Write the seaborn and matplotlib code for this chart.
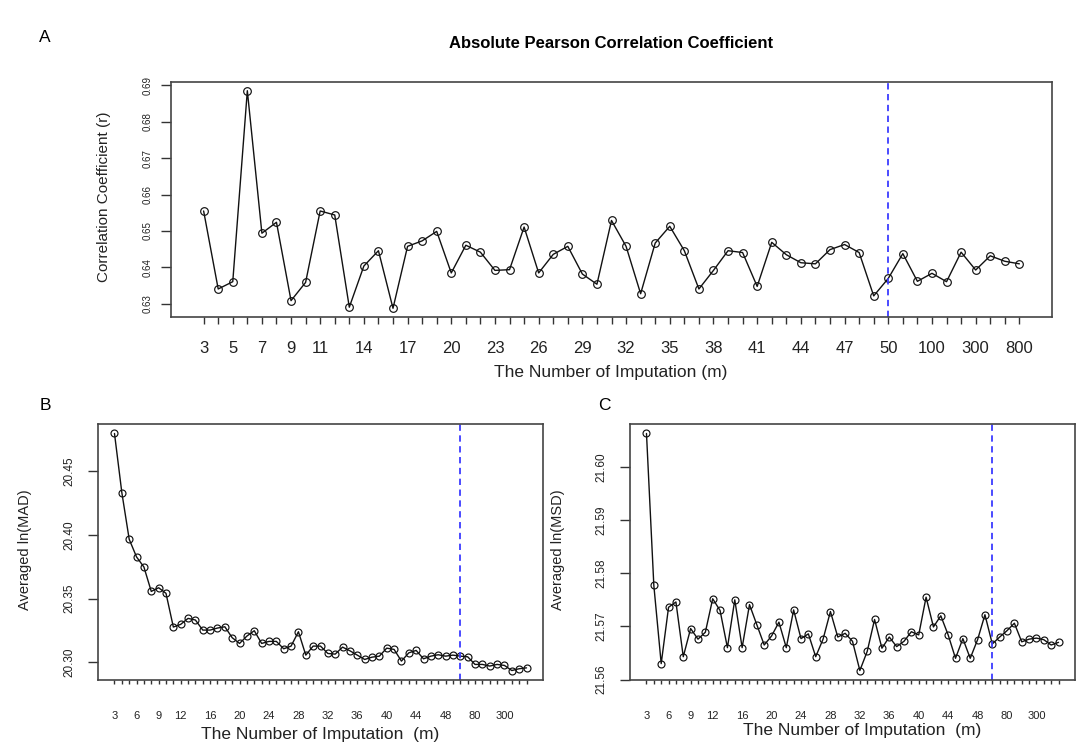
import numpy as np
import pandas as pd
import seaborn as sns
import matplotlib
matplotlib.use("Agg")
import matplotlib.pyplot as plt

# number of imputations (categorical x axis)
m_values = list(range(3, 51)) + [60, 80, 100, 150, 200, 300, 400, 500, 800]

# panel A: absolute Pearson correlation coefficient
r_values = [
    0.6555, 0.6341, 0.6361, 0.6885, 0.6494, 0.6524, 0.6309, 0.6359, 0.6555, 0.6544,
    0.6291, 0.6404, 0.6446, 0.6288, 0.6458, 0.6473, 0.6499, 0.6385, 0.6461, 0.6442,
    0.6392, 0.6394, 0.6511, 0.6385, 0.6436, 0.6458, 0.6382, 0.6354, 0.6529, 0.6458,
    0.6328, 0.6467, 0.6513, 0.6446, 0.6341, 0.6392, 0.6446, 0.6441, 0.6348, 0.6469,
    0.6435, 0.6413, 0.6410, 0.6449, 0.6463, 0.6441, 0.6322, 0.6370,
    0.6438, 0.6362, 0.6384, 0.6361, 0.6442, 0.6393, 0.6432, 0.6417, 0.6410,
]

# panel B: averaged ln(MAD)
mad_values = [
    20.4798, 20.4333, 20.3966, 20.3827, 20.3748, 20.3556, 20.3585, 20.3541, 20.3276, 20.3297,
    20.3344, 20.3331, 20.3252, 20.3252, 20.3268, 20.3278, 20.3192, 20.3147, 20.3205, 20.3247,
    20.3147, 20.3163, 20.3163, 20.3105, 20.3126, 20.3239, 20.3055, 20.3126, 20.3126, 20.3068,
    20.3063, 20.3118, 20.3089, 20.3055, 20.3021, 20.3039, 20.3047, 20.3110, 20.3100, 20.3008,
    20.3073, 20.3092, 20.3026, 20.3047, 20.3058, 20.3047, 20.3055, 20.3047,
    20.3042, 20.2982, 20.2982, 20.2969, 20.2982, 20.2974, 20.2934, 20.2948, 20.2955,
]

# panel C: averaged ln(MSD)
msd_values = [
    21.6063, 21.5777, 21.5630, 21.5736, 21.5746, 21.5643, 21.5696, 21.5676, 21.5689, 21.5752,
    21.5730, 21.5660, 21.5750, 21.5660, 21.5741, 21.5703, 21.5665, 21.5682, 21.5708, 21.5660,
    21.5731, 21.5677, 21.5686, 21.5643, 21.5676, 21.5728, 21.5680, 21.5687, 21.5672, 21.5617,
    21.5653, 21.5713, 21.5659, 21.5680, 21.5662, 21.5672, 21.5690, 21.5684, 21.5755, 21.5699,
    21.5720, 21.5684, 21.5640, 21.5677, 21.5640, 21.5675, 21.5722, 21.5667,
    21.5680, 21.5692, 21.5706, 21.5671, 21.5676, 21.5678, 21.5675, 21.5665, 21.5670,
]

# x tick labels that are actually printed
a_shown = [3, 5, 7, 9, 11, 14, 17, 20, 23, 26, 29, 32, 35, 38, 41, 44, 47, 50, 100, 300, 800]
bc_shown = [3, 6, 9, 12, 16, 20, 24, 28, 32, 36, 40, 44, 48, 80, 300]

a_yticks = [0.63, 0.64, 0.65, 0.66, 0.67, 0.68, 0.69]
b_yticks = [20.30, 20.35, 20.40, 20.45]
c_yticks = [21.56, 21.57, 21.58, 21.59, 21.60]

cutoff_m = 50

sns.set_theme(style="ticks")
plt.rcParams["font.family"] = ["Liberation Sans", "DejaVu Sans"]
TXT = "#222222"


def r_pad(lo, hi):
    d = (hi - lo) * 0.04
    return lo - d, hi + d


def draw_panel(ax, values, shown, yticks, ytick_fmt, xtick_size, ytick_size,
               xpad, ypad, tick_len, msize):
    df = pd.DataFrame({"pos": np.arange(len(m_values)), "value": values})
    sns.lineplot(data=df, x="pos", y="value", ax=ax, color="#111111", lw=1.0,
                 marker="o", markersize=msize, markerfacecolor="none",
                 markeredgecolor="#111111", markeredgewidth=0.85)
    ax.axvline(m_values.index(cutoff_m), color="#3b3bff", lw=1.3,
               linestyle=(0, (3.5, 2.5)))
    ax.set_xlim(*r_pad(0, len(m_values) - 1))
    ax.set_ylim(*r_pad(min(values), max(values)))
    ax.set_xticks(np.arange(len(m_values)))
    ax.set_xticklabels([str(m) if m in shown else "" for m in m_values],
                       fontsize=xtick_size, color=TXT)
    ax.set_yticks(yticks)
    ax.set_yticklabels([ytick_fmt.format(v) for v in yticks], rotation=90,
                       va="center", fontsize=ytick_size, color=TXT)
    ax.tick_params(axis="x", length=tick_len, width=1.0, pad=xpad, color="#333333")
    ax.tick_params(axis="y", length=7, width=1.0, pad=ypad, color="#333333")
    for s in ax.spines.values():
        s.set_visible(True)
        s.set_color("#444444")
        s.set_linewidth(1.2)
    ax.set_xlabel("")
    ax.set_ylabel("")


fig = plt.figure(figsize=(10.89, 7.53), dpi=100)
W, H = 1089, 753


def add_axes_px(x0, y0, x1, y1):
    return fig.add_axes([x0 / W, 1 - y1 / H, (x1 - x0) / W, (y1 - y0) / H])


ax_a = add_axes_px(171, 82, 1052, 317)
ax_b = add_axes_px(98, 424, 543, 680)
ax_c = add_axes_px(630, 424, 1075, 680)

draw_panel(ax_a, r_values, a_shown, a_yticks, "{:.2f}", 12, 7, 12, 6, 5, 5.5)
draw_panel(ax_b, mad_values, bc_shown, b_yticks, "{:.2f}", 8, 8.5, 19, 9, 3, 5)
draw_panel(ax_c, msd_values, bc_shown, c_yticks, "{:.2f}", 8, 8.5, 19, 9, 3, 5)

# panel titles and labels
fig.text(611 / W, 1 - 44 / H, "Absolute Pearson Correlation Coefficient",
         ha="center", va="center", fontsize=12, fontweight="bold", color="black")
fig.text(45 / W, 1 - 37 / H, "A", ha="center", va="center", fontsize=12.5, color="black")
fig.text(45 / W, 1 - 406 / H, "B", ha="center", va="center", fontsize=12.5, color="black")
fig.text(604 / W, 1 - 406 / H, "C", ha="center", va="center", fontsize=12.5, color="black")

fig.text(611 / W, 1 - 372 / H, "The Number of Imputation (m)", ha="center",
         va="center", fontsize=12.5, color=TXT)
fig.text(104 / W, 1 - 197 / H, "Correlation Coefficient (r)", ha="center",
         va="center", rotation=90, fontsize=11, color=TXT)

fig.text(320 / W, 1 - 735 / H, "The Number of Imputation  (m)", ha="center",
         va="center", fontsize=12.5, color=TXT)
fig.text(25 / W, 1 - 550 / H, "Averaged ln(MAD)", ha="center", va="center",
         rotation=90, fontsize=10.5, color=TXT)

fig.text(862 / W, 1 - 731 / H, "The Number of Imputation  (m)", ha="center",
         va="center", fontsize=12.5, color=TXT)
fig.text(558 / W, 1 - 550 / H, "Averaged ln(MSD)", ha="center", va="center",
         rotation=90, fontsize=10.5, color=TXT)

fig.savefig("out.png", dpi=100, facecolor="white")
